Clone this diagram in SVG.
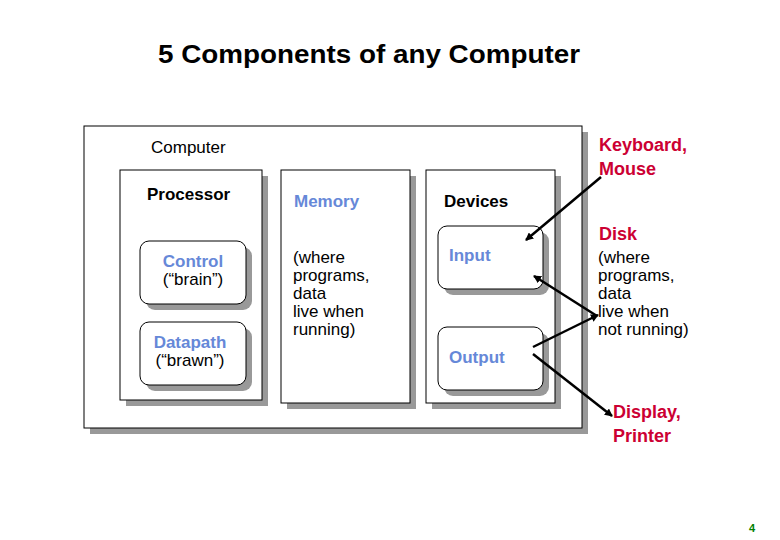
<svg xmlns="http://www.w3.org/2000/svg" width="780" height="540" viewBox="0 0 780 540">
<style>
text{font-family:"Liberation Sans",Arial,sans-serif;}
.box{fill:#fff;stroke:#000;stroke-width:1}
.sh{fill:#999}
.blue{fill:#6688d8;font-size:17px;font-weight:bold}
.blk{fill:#000;font-size:17px}
.red{fill:#cc0033;font-size:18px;font-weight:bold}
.ar{stroke:#000;stroke-width:2.5;fill:none;marker-end:url(#ah)}
</style>
<defs><marker id="ah" markerWidth="8" markerHeight="8" refX="7" refY="4" orient="auto" markerUnits="userSpaceOnUse"><path d="M0,0L8,4L0,8z" fill="#000"/></marker></defs>
<rect width="780" height="540" fill="#fff"/>
<text x="158" y="63" font-size="25" font-weight="bold" textLength="422" lengthAdjust="spacingAndGlyphs">5 Components of any Computer</text>
<g id="computer">
<rect class="sh" x="90" y="132" width="498" height="302"/>
<rect class="box" x="84" y="126" width="498" height="302"/>
<text class="blk" x="151" y="153">Computer</text>
</g>
<g id="processor">
<rect class="sh" x="126" y="176" width="142" height="230"/>
<rect class="box" x="120" y="170" width="142" height="230"/>
<text class="blk" x="147" y="200" font-weight="bold">Processor</text>
</g>
<g id="control">
<rect class="sh" x="146" y="247" width="106" height="63" rx="9"/>
<rect class="box" x="140" y="241" width="106" height="63" rx="9"/>
<text class="blue" x="193" y="267" text-anchor="middle">Control</text>
<text class="blk" x="193" y="285" text-anchor="middle">(“brain”)</text>
</g>
<g id="datapath">
<rect class="sh" x="146" y="328" width="106" height="63" rx="9"/>
<rect class="box" x="140" y="322" width="106" height="63" rx="9"/>
<text class="blue" x="190" y="348" text-anchor="middle">Datapath</text>
<text class="blk" x="190" y="366" text-anchor="middle">(“brawn”)</text>
</g>
<g id="memory">
<rect class="sh" x="287" y="176" width="129" height="233"/>
<rect class="box" x="281" y="170" width="129" height="233"/>
<text class="blue" x="294" y="207">Memory</text>
<text class="blk" x="293" y="263">(where</text>
<text class="blk" x="293" y="281">programs,</text>
<text class="blk" x="293" y="299">data</text>
<text class="blk" x="293" y="317">live when</text>
<text class="blk" x="293" y="335">running)</text>
</g>
<g id="devices">
<rect class="sh" x="432" y="176" width="129" height="233"/>
<rect class="box" x="426" y="170" width="129" height="233"/>
<text class="blk" x="444" y="207" font-weight="bold">Devices</text>
</g>
<g id="input">
<rect class="sh" x="444" y="232" width="105" height="63" rx="9"/>
<rect class="box" x="438" y="226" width="105" height="63" rx="9"/>
<text class="blue" x="449" y="261">Input</text>
</g>
<g id="output">
<rect class="sh" x="444" y="333" width="105" height="63" rx="9"/>
<rect class="box" x="438" y="327" width="105" height="63" rx="9"/>
<text class="blue" x="449" y="363">Output</text>
</g>
<g id="keyboard"><text class="red" x="599" y="151">Keyboard,</text><text class="red" x="599" y="175">Mouse</text></g>
<g id="disk"><text class="red" x="599" y="240">Disk</text>
<text class="blk" x="598" y="263">(where</text><text class="blk" x="598" y="281">programs,</text><text class="blk" x="598" y="299">data</text><text class="blk" x="598" y="317">live when</text><text class="blk" x="598" y="335">not running)</text></g>
<g id="display"><text class="red" x="613" y="418">Display,</text><text class="red" x="613" y="442">Printer</text></g>
<g id="connectors">
<line class="ar" x1="601" y1="177" x2="526" y2="240"/>
<line class="ar" x1="597" y1="316" x2="534" y2="276"/>
<line class="ar" x1="533" y1="347" x2="598" y2="315"/>
<line class="ar" x1="533" y1="354" x2="612" y2="416"/>
</g>
<text x="752" y="532" font-size="11" font-weight="bold" fill="#008000" text-anchor="middle">4</text>
</svg>
